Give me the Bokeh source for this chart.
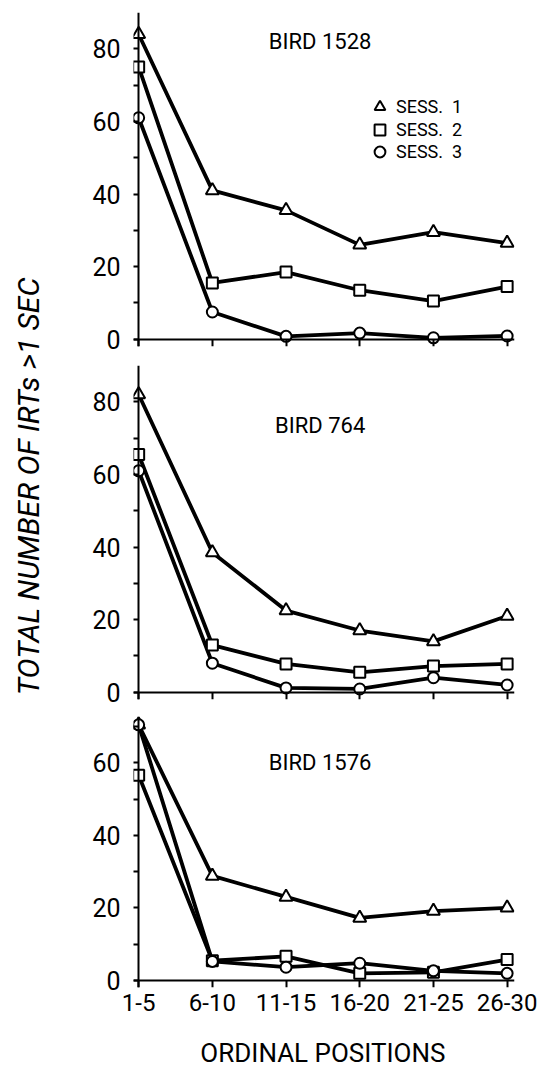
from math import pi
from bokeh.plotting import figure
from bokeh.layouts import row, column
from bokeh.models import (Range1d, FixedTicker, Label, Legend, LegendItem,
                          LinearAxis)
from bokeh.embed import file_html
from bokeh.resources import INLINE

# ---------------- data ----------------
positions = ["1-5", "6-10", "11-15", "16-20", "21-25", "26-30"]
session_names = ["SESS.  1", "SESS.  2", "SESS.  3"]

bird_1528_s1 = [84, 41, 35.5, 26, 29.5, 26.5]
bird_1528_s2 = [75, 15.5, 18.5, 13.5, 10.5, 14.5]
bird_1528_s3 = [61, 7.5, 0.8, 1.7, 0.4, 0.9]

bird_764_s1 = [82, 38.5, 22.5, 17, 14, 21]
bird_764_s2 = [65.5, 13, 7.8, 5.5, 7.2, 7.8]
bird_764_s3 = [61, 8, 1.2, 0.9, 4, 2]

bird_1576_s1 = [70.5, 28.8, 23, 17.2, 19.1, 20]
bird_1576_s2 = [56.6, 5.4, 6.6, 1.9, 2.2, 5.7]
bird_1576_s3 = [70.5, 5.2, 3.6, 4.7, 2.6, 1.9]

y_ticks_90 = [0, 20, 40, 60, 80]
y_minor_90 = [10, 30, 50, 70]
y_ticks_70 = [0, 20, 40, 60]
y_minor_70 = [10, 30, 50, 70]

FONT = "Roboto"
PANEL_W = 489
X_RANGE = (-0.07, 5.1)


def make_panel(title, title_y, s1, s2, s3, y_end, height, b_top, b_bottom,
               y_ticks, y_minor, x_labels, legend=False):
    xs = list(range(len(positions)))
    p = figure(width=PANEL_W, height=height, output_backend="svg",
               toolbar_location=None,
               x_range=Range1d(*X_RANGE), y_range=Range1d(-2, y_end),
               min_border_left=80, min_border_right=28,
               min_border_top=b_top, min_border_bottom=b_bottom)
    p.outline_line_color = None
    p.xgrid.visible = False
    p.ygrid.visible = False

    # ---- label-only y axis (sits at the frame edge) ----
    ly = p.yaxis[0]
    ly.ticker = FixedTicker(ticks=y_ticks, minor_ticks=[])
    ly.axis_line_color = None
    ly.major_tick_line_color = None
    ly.minor_tick_line_color = None
    ly.major_tick_in = 0
    ly.major_tick_out = 0
    ly.minor_tick_in = 0
    ly.minor_tick_out = 0
    ly.major_label_standoff = 13
    ly.major_label_text_font = FONT
    ly.major_label_text_font_size = "25px"
    ly.major_label_text_color = "black"

    # ---- label-only x axis ----
    lx = p.xaxis[0]
    if x_labels:
        lx.ticker = FixedTicker(ticks=xs, minor_ticks=[])
        lx.major_label_overrides = {i: lab for i, lab in enumerate(positions)}
        lx.axis_line_color = None
        lx.major_tick_line_color = None
        lx.minor_tick_line_color = None
        lx.major_tick_in = 0
        lx.major_tick_out = 0
        lx.minor_tick_in = 0
        lx.minor_tick_out = 0
        lx.major_label_standoff = 6
        lx.major_label_text_font = FONT
        lx.major_label_text_font_size = "24px"
        lx.major_label_text_color = "black"
    else:
        lx.visible = False

    # ---- drawn axes through zero ----
    ay = LinearAxis(fixed_location=0,
                    ticker=FixedTicker(ticks=y_ticks, minor_ticks=y_minor),
                    axis_line_width=2, major_tick_line_width=2,
                    minor_tick_line_width=2, major_tick_in=0, major_tick_out=6,
                    minor_tick_in=0, minor_tick_out=6,
                    major_label_text_font_size="0px", major_label_text_alpha=0)
    p.add_layout(ay, "left")
    ax = LinearAxis(fixed_location=0,
                    ticker=FixedTicker(ticks=xs, minor_ticks=[]),
                    axis_line_width=2, major_tick_line_width=2,
                    major_tick_in=0, major_tick_out=7,
                    minor_tick_line_color=None,
                    major_label_text_font_size="0px", major_label_text_alpha=0)
    p.add_layout(ax, "below")

    lw = 3.8
    for s in (s1, s2, s3):
        p.line(xs, s, line_color="black", line_width=lw)
    r1 = p.scatter(xs, s1, marker="triangle", size=13, fill_color="white",
                   line_color="black", line_width=2)
    r2 = p.scatter(xs, s2, marker="square", size=11, fill_color="white",
                   line_color="black", line_width=2)
    r3 = p.scatter(xs, s3, marker="circle", size=11, fill_color="white",
                   line_color="black", line_width=2)

    p.add_layout(Label(x=2.5, y=title_y, text=title, text_align="center",
                       text_baseline="middle", text_font=FONT,
                       text_font_size="22px", text_color="black"))

    if legend:
        # one single-item legend per row, stacked
        for rend, name, vy in ((r1, session_names[0], 226),
                               (r2, session_names[1], 203.5),
                               (r3, session_names[2], 181)):
            lg = Legend(items=[LegendItem(label=name, renderers=[rend])],
                        location=(233, vy), orientation="vertical",
                        glyph_width=27, glyph_height=27, label_height=27,
                        spacing=0, padding=0, margin=0, label_standoff=3,
                        border_line_color=None, background_fill_alpha=0,
                        label_text_font=FONT, label_text_font_size="18px",
                        label_text_color="black")
            p.add_layout(lg, "center")
    return p


p1 = make_panel("BIRD  1528", 81.9, bird_1528_s1, bird_1528_s2, bird_1528_s3,
                90, 362, 12, 16, y_ticks_90, y_minor_90, False, legend=True)
p2 = make_panel("BIRD  764", 73.5, bird_764_s1, bird_764_s2, bird_764_s3,
                90, 348, 3, 11, y_ticks_90, y_minor_90, False)
p3 = make_panel("BIRD  1576", 60.0, bird_1576_s1, bird_1576_s2, bird_1576_s3,
                72.8, 317, 6, 40, y_ticks_70, y_minor_70, True)

# strip under the panels holding the x-axis title
xt = figure(width=PANEL_W, height=42, output_backend="svg",
            toolbar_location=None,
            x_range=Range1d(*X_RANGE), y_range=Range1d(0, 42),
            x_axis_type=None, y_axis_type=None,
            min_border_left=80, min_border_right=28, min_border_top=0,
            min_border_bottom=0)
xt.outline_line_color = None
xt.xgrid.visible = False
xt.ygrid.visible = False
xt.add_layout(Label(x=2.5, y=17, text="ORDINAL POSITIONS", text_align="center",
                    text_baseline="middle", text_font=FONT,
                    text_font_size="26px", text_color="black"))

# left strip holding the shared y-axis title
lab = figure(width=53, height=1069, output_backend="svg", toolbar_location=None,
             x_range=Range1d(0, 53), y_range=Range1d(0, 1069),
             x_axis_type=None, y_axis_type=None,
             min_border_left=0, min_border_right=0, min_border_top=0,
             min_border_bottom=0)
lab.outline_line_color = None
lab.xgrid.visible = False
lab.ygrid.visible = False
lab.add_layout(Label(x=28, y=583, x_units="screen", y_units="screen",
                     text="TOTAL NUMBER OF IRTs >1 SEC", angle=pi / 2,
                     text_align="center", text_baseline="middle",
                     text_font=FONT, text_font_size="30px",
                     text_font_style="italic", text_color="black"))

layout = row(lab, column(p1, p2, p3, xt))

open("out.html", "w").write(file_html(layout, INLINE))
